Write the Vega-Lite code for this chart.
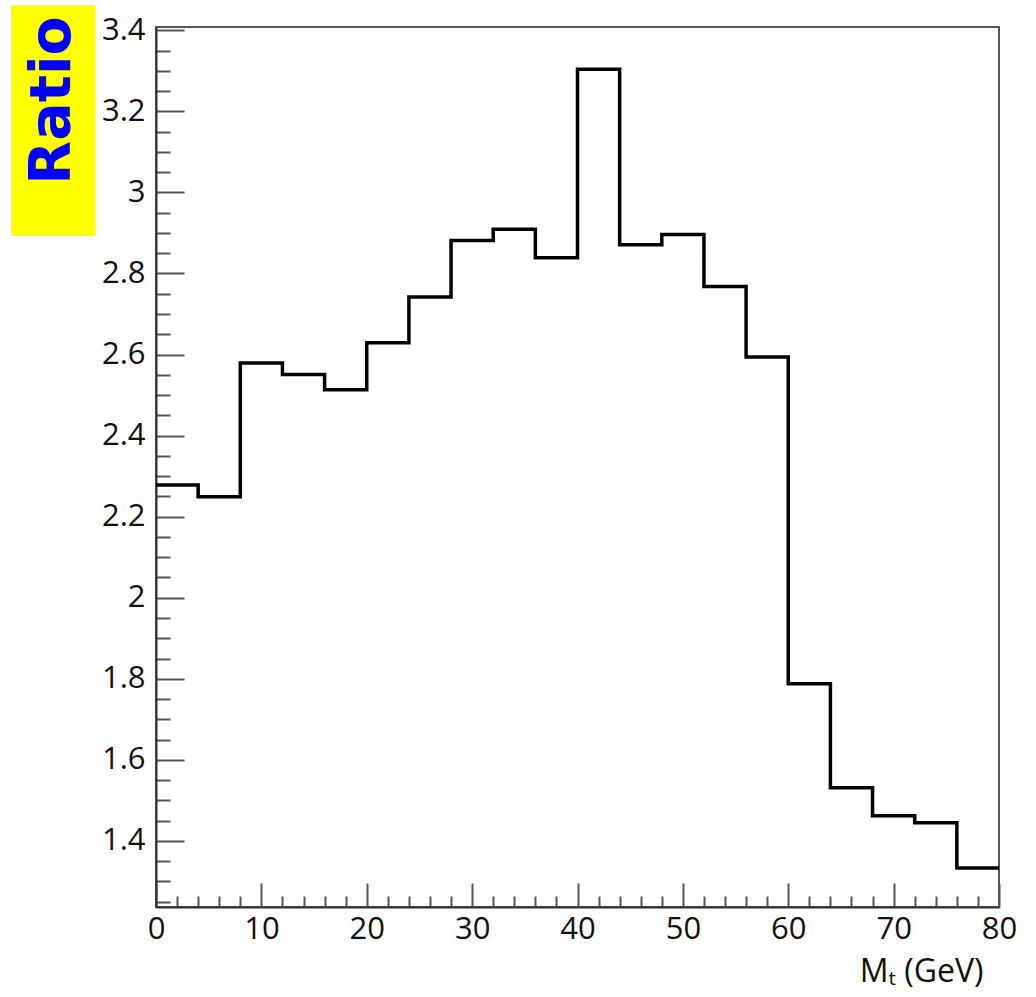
{
  "$schema": "https://vega.github.io/schema/vega-lite/v6.json",
  "background": "white",
  "padding": {"left": 11, "top": 4, "right": 5, "bottom": 5},
  "config": {"view": {"stroke": null}},
  "datasets": {
    "hist": [
      {"lo": 0, "hi": 4, "ratio": 2.278},
      {"lo": 4, "hi": 8, "ratio": 2.249},
      {"lo": 8, "hi": 12, "ratio": 2.579},
      {"lo": 12, "hi": 16, "ratio": 2.551},
      {"lo": 16, "hi": 20, "ratio": 2.513},
      {"lo": 20, "hi": 24, "ratio": 2.629},
      {"lo": 24, "hi": 28, "ratio": 2.742},
      {"lo": 28, "hi": 32, "ratio": 2.881},
      {"lo": 32, "hi": 36, "ratio": 2.909},
      {"lo": 36, "hi": 40, "ratio": 2.839},
      {"lo": 40, "hi": 44, "ratio": 3.304},
      {"lo": 44, "hi": 48, "ratio": 2.871},
      {"lo": 48, "hi": 52, "ratio": 2.896},
      {"lo": 52, "hi": 56, "ratio": 2.768},
      {"lo": 56, "hi": 60, "ratio": 2.594},
      {"lo": 60, "hi": 64, "ratio": 1.788},
      {"lo": 64, "hi": 68, "ratio": 1.531},
      {"lo": 68, "hi": 72, "ratio": 1.462},
      {"lo": 72, "hi": 76, "ratio": 1.445},
      {"lo": 76, "hi": 80, "ratio": 1.333}
    ],
    "label": [{"label": "Ratio"}]
  },
  "spacing": 5,
  "hconcat": [
    {
      "data": {"name": "label"},
      "width": 84,
      "height": 231,
      "view": {"fill": "#ffff00", "stroke": null},
      "mark": {"type": "text", "angle": 270, "dx": 20, "font": "DejaVu Sans", "fontWeight": "bold", "fontSize": 57, "color": "#0000ff"},
      "encoding": {"text": {"field": "label", "type": "nominal"}}
    },
    {
      "spacing": 7,
      "vconcat": [
        {
          "data": {"name": "label"},
          "width": 843,
          "height": 1,
          "view": {"stroke": null},
          "mark": {"type": "text", "fontSize": 1},
          "encoding": {"text": {"value": ""}}
        },
        {
          "data": {"name": "hist"},
          "width": 843,
          "height": 880,
          "view": {"stroke": "#555555", "strokeWidth": 2},
          "transform": [{"fold": ["lo", "hi"], "as": ["edge", "x"]}],
          "mark": {"type": "line", "color": "black", "strokeWidth": 3.5, "strokeJoin": "miter", "strokeCap": "butt"},
          "encoding": {
            "x": {
              "field": "x", "type": "quantitative",
              "scale": {"domain": [0, 80], "nice": false, "zero": false},
              "axis": {
                "values": [0,2,4,6,8,10,12,14,16,18,20,22,24,26,28,30,32,34,36,38,40,42,44,46,48,50,52,54,56,58,60,62,64,66,68,70,72,74,76,78,80],
                "tickSize": {"condition": {"test": "datum.value % 10 === 0", "value": -24}, "value": -11},
                "tickColor": "#555555", "tickWidth": 2,
                "domainColor": "#333333", "domainWidth": 2,
                "format": "d",
                "labelExpr": "datum.value % 10 === 0 ? datum.label : ''",
                "labelFont": "Open Sans", "labelFontSize": 31, "labelColor": "#111111",
                "labelPadding": 31, "labelOverlap": false, "labelFlush": false,
                "grid": false,
                "title": "Mₜ (GeV)",
                "titleFont": "Open Sans", "titleFontSize": 32, "titleFontWeight": "normal", "titleColor": "#111111",
                "titleAnchor": "end", "titleAlign": "right", "titleBaseline": "alphabetic", "titleX": 827, "titleY": 74
              }
            },
            "y": {
              "field": "ratio", "type": "quantitative",
              "scale": {"domain": [1.237, 3.408], "nice": false, "zero": false},
              "axis": {
                "values": [1.25,1.3,1.35,1.4,1.45,1.5,1.55,1.6,1.65,1.7,1.75,1.8,1.85,1.9,1.95,2,2.05,2.1,2.15,2.2,2.25,2.3,2.35,2.4,2.45,2.5,2.55,2.6,2.65,2.7,2.75,2.8,2.85,2.9,2.95,3,3.05,3.1,3.15,3.2,3.25,3.3,3.35,3.4],
                "tickSize": {"condition": {"test": "abs(datum.value*5 - round(datum.value*5)) < 0.001", "value": -28}, "value": -14},
                "tickColor": "#555555", "tickWidth": 2,
                "domainColor": "#333333", "domainWidth": 2,
                "format": ".1~f",
                "labelExpr": "abs(datum.value*5 - round(datum.value*5)) < 0.001 ? datum.label : ''",
                "labelFont": "Open Sans", "labelFontSize": 31, "labelColor": "#111111",
                "labelPadding": 39, "labelOverlap": false, "labelFlush": false,
                "grid": false,
                "title": null
              }
            },
            "order": [{"field": "x", "type": "quantitative"}, {"field": "lo", "type": "quantitative"}]
          }
        }
      ]
    }
  ]
}
